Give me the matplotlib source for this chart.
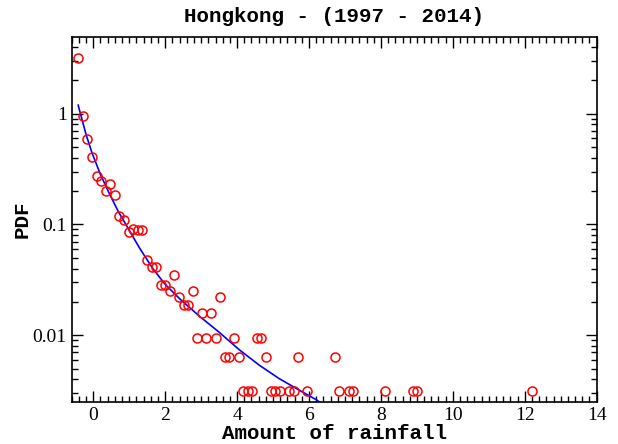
import numpy as np
import matplotlib
matplotlib.use('Agg')
import matplotlib.pyplot as plt
from matplotlib.ticker import MultipleLocator, LogLocator, FixedLocator, FuncFormatter, NullFormatter

# 数据: 直方图点 (x, pdf)
rain_x = [-0.419, -0.291, -0.164, -0.036, 0.091, 0.219, 0.346, 0.473, 0.601, 0.728,
          0.856, 0.983, 1.110, 1.238, 1.365, 1.493, 1.620, 1.748, 1.875, 2.002,
          2.130, 2.257, 2.385, 2.512, 2.639, 2.767, 2.894, 3.022, 3.149, 3.277,
          3.404, 3.531, 3.659, 3.786, 3.914, 4.041, 4.169, 4.296, 4.423, 4.551,
          4.678, 4.806, 4.933, 5.060, 5.188, 5.443, 5.570, 5.698, 5.952, 6.717,
          6.844, 7.099, 7.226, 8.118, 8.883, 9.010, 12.196]
rain_pdf = [3.17, 0.946, 0.595, 0.404, 0.275, 0.248, 0.199, 0.232, 0.184, 0.120,
            0.110, 0.0856, 0.0915, 0.0889, 0.0889, 0.0475, 0.0411, 0.0411, 0.0284, 0.0284,
            0.0252, 0.0347, 0.0220, 0.0189, 0.0189, 0.0252, 0.0095, 0.0158, 0.0095, 0.0158,
            0.0095, 0.0220, 0.00634, 0.00634, 0.0095, 0.00634, 0.00317, 0.00317, 0.00317, 0.0095,
            0.0095, 0.00634, 0.00317, 0.00317, 0.00317, 0.00317, 0.00317, 0.00634, 0.00317, 0.00634,
            0.00317, 0.00317, 0.00317, 0.00317, 0.00317, 0.00317, 0.00317]

# 拟合曲线
fit_x = [-0.42, -0.20, -0.04, 0.20, 0.46, 0.70, 0.96, 1.30, 1.66, 2.00,
         2.40, 2.96, 3.51, 4.06, 4.62, 5.17, 5.73, 6.17, 6.40]
fit_pdf = [1.19, 0.646, 0.447, 0.282, 0.186, 0.130, 0.0933, 0.0603, 0.0398, 0.0288,
           0.0214, 0.0148, 0.0106, 0.00741, 0.00537, 0.00407, 0.0032, 0.00266, 0.00238]

title = 'Hongkong - (1997 - 2014)'
xlabel = 'Amount of rainfall'
ylabel = 'PDF'

fig = plt.figure(figsize=(6.18, 4.44), dpi=100)
ax = fig.add_axes([0.116, 0.0953, 0.8495, 0.8214])

ax.plot(fit_x, fit_pdf, color='blue', lw=1.2, zorder=2)
ax.plot(rain_x, rain_pdf, 'o', mfc='none', mec='red', ms=6.5, mew=1.1, zorder=3)

ax.set_yscale('log')
ax.set_xlim(-0.6, 14)
ax.set_ylim(0.00252, 4.9)

ax.xaxis.set_major_locator(MultipleLocator(2))
ax.xaxis.set_minor_locator(MultipleLocator(0.2))
ax.yaxis.set_major_locator(FixedLocator([0.01, 0.1, 1]))
ax.yaxis.set_minor_locator(LogLocator(base=10, subs=np.arange(2, 10)))
ax.yaxis.set_major_formatter(FuncFormatter(lambda v, p: '%g' % v))
ax.yaxis.set_minor_formatter(NullFormatter())

serif = ['Liberation Serif', 'DejaVu Serif']
mono = ['Liberation Mono', 'DejaVu Sans Mono']
ax.tick_params(which='both', direction='in', top=True, right=True, width=1.0,
               labelsize=14)
ax.tick_params(which='major', length=8)
ax.tick_params(which='minor', length=4)
for lab in ax.get_xticklabels() + ax.get_yticklabels():
    lab.set_family(serif)
for s in ax.spines.values():
    s.set_linewidth(1.2)

ax.set_title(title, family=mono, fontweight='bold', fontsize=15, pad=11)
ax.set_xlabel(xlabel, family=mono, fontweight='bold', fontsize=15, labelpad=0)
ax.set_ylabel(ylabel, family=mono, fontweight='bold', fontsize=15, labelpad=1)

fig.savefig('out.png', dpi=100)
